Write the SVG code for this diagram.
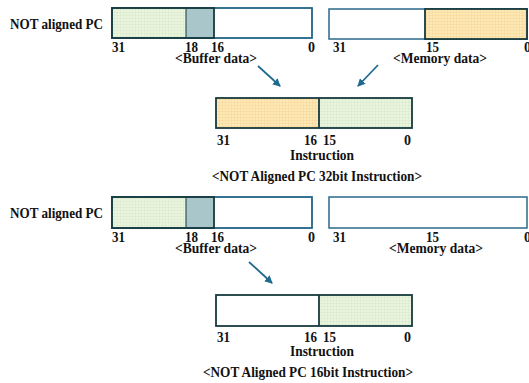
<svg xmlns="http://www.w3.org/2000/svg" width="529" height="383" viewBox="0 0 529 383">
<defs>
<pattern id="pg" width="3" height="3" patternUnits="userSpaceOnUse"><rect width="3" height="3" fill="#eaf4df"/><path d="M0 0.5H3M0.5 0V3" stroke="#d9e9cc" stroke-width="0.6"/></pattern>
<pattern id="po" width="3" height="3" patternUnits="userSpaceOnUse"><rect width="3" height="3" fill="#fde9b8"/><path d="M0 0.5H3M0.5 0V3" stroke="#f6d99a" stroke-width="0.6"/></pattern>
<marker id="ah" markerWidth="8" markerHeight="8" refX="7" refY="4" orient="auto" markerUnits="userSpaceOnUse"><path d="M0 0L8 4L0 8Z" fill="#1f6a8f"/></marker>
</defs>
<style>
text{font-family:"Liberation Serif","Times New Roman",serif;font-weight:bold;font-size:14px;fill:#111}
.c{text-anchor:middle}
.box{fill:none;stroke:#2a6a8a;stroke-width:1.5}
.dk{fill:none;stroke:#173a3f;stroke-width:1.8}
.blu{fill:#a9c6cb}
.arr{stroke:#1f6a8f;stroke-width:1.8;fill:none;marker-end:url(#ah)}
</style>

<g id="buffer1">
<text x="10" y="29" textLength="93" lengthAdjust="spacingAndGlyphs">NOT aligned PC</text>
<rect x="112" y="8" width="200" height="30" fill="#fff" class="box"/>
<rect x="112" y="8" width="74" height="30" fill="url(#pg)"/>
<rect x="186" y="8" width="28" height="30" class="blu"/>
<rect x="112" y="8" width="200" height="30" class="box"/>
<rect x="112" y="8" width="102" height="30" class="dk"/>
<line x1="186" y1="8" x2="186" y2="38" stroke="#173a3f" stroke-width="1"/>
<text x="112" y="52" textLength="13" lengthAdjust="spacingAndGlyphs">31</text>
<text x="185" y="52" textLength="13" lengthAdjust="spacingAndGlyphs">18</text>
<text x="211" y="52" textLength="13" lengthAdjust="spacingAndGlyphs">16</text>
<text x="308" y="52">0</text>
<text x="175" y="63" textLength="82" lengthAdjust="spacingAndGlyphs">&lt;Buffer data&gt;</text>
</g>

<g id="memory1">
<rect x="329" y="9" width="198" height="30" fill="#fff" class="box"/>
<rect x="425" y="9" width="102" height="30" fill="url(#po)"/>
<rect x="425" y="9" width="102" height="30" class="dk"/>
<text x="333" y="52" textLength="13" lengthAdjust="spacingAndGlyphs">31</text>
<text x="426" y="52" textLength="13" lengthAdjust="spacingAndGlyphs">15</text>
<text x="524" y="52">0</text>
<text x="393" y="63" textLength="94" lengthAdjust="spacingAndGlyphs">&lt;Memory data&gt;</text>
</g>

<g id="instr1">
<rect x="216" y="98" width="103" height="30" fill="url(#po)"/>
<rect x="319" y="98" width="93" height="30" fill="url(#pg)"/>
<rect x="216" y="98" width="196" height="30" class="dk"/>
<line x1="319" y1="98" x2="319" y2="128" stroke="#173a3f" stroke-width="1.8"/>
<text x="217" y="145" textLength="13" lengthAdjust="spacingAndGlyphs">31</text>
<text x="304" y="145" textLength="13" lengthAdjust="spacingAndGlyphs">16</text>
<text x="323" y="145" textLength="13" lengthAdjust="spacingAndGlyphs">15</text>
<text x="404" y="145">0</text>
<text x="290" y="160" textLength="64" lengthAdjust="spacingAndGlyphs">Instruction</text>
<text x="212" y="181" textLength="210" lengthAdjust="spacingAndGlyphs">&lt;NOT Aligned PC 32bit Instruction&gt;</text>
</g>

<g id="buffer2">
<text x="10" y="218" textLength="93" lengthAdjust="spacingAndGlyphs">NOT aligned PC</text>
<rect x="112" y="197" width="200" height="31" fill="#fff" class="box"/>
<rect x="112" y="197" width="74" height="31" fill="url(#pg)"/>
<rect x="186" y="197" width="28" height="31" class="blu"/>
<rect x="112" y="197" width="200" height="31" class="box"/>
<rect x="112" y="197" width="102" height="31" class="dk"/>
<line x1="186" y1="197" x2="186" y2="228" stroke="#173a3f" stroke-width="1"/>
<text x="112" y="242" textLength="13" lengthAdjust="spacingAndGlyphs">31</text>
<text x="185" y="242" textLength="13" lengthAdjust="spacingAndGlyphs">18</text>
<text x="211" y="242" textLength="13" lengthAdjust="spacingAndGlyphs">16</text>
<text x="308" y="242">0</text>
<text x="175" y="253" textLength="82" lengthAdjust="spacingAndGlyphs">&lt;Buffer data&gt;</text>
</g>

<g id="memory2">
<rect x="329" y="197" width="198" height="31" fill="#fff" class="box"/>
<text x="333" y="242" textLength="13" lengthAdjust="spacingAndGlyphs">31</text>
<text x="426" y="242" textLength="13" lengthAdjust="spacingAndGlyphs">15</text>
<text x="524" y="242">0</text>
<text x="389" y="253" textLength="94" lengthAdjust="spacingAndGlyphs">&lt;Memory data&gt;</text>
</g>

<g id="instr2">
<rect x="216" y="295" width="103" height="31" fill="#fff"/>
<rect x="319" y="295" width="93" height="31" fill="url(#pg)"/>
<rect x="216" y="295" width="196" height="31" class="dk"/>
<line x1="319" y1="295" x2="319" y2="326" stroke="#173a3f" stroke-width="1.8"/>
<text x="217" y="342" textLength="13" lengthAdjust="spacingAndGlyphs">31</text>
<text x="304" y="342" textLength="13" lengthAdjust="spacingAndGlyphs">16</text>
<text x="323" y="342" textLength="13" lengthAdjust="spacingAndGlyphs">15</text>
<text x="404" y="342">0</text>
<text x="290" y="356" textLength="64" lengthAdjust="spacingAndGlyphs">Instruction</text>
<text x="203" y="377" textLength="210" lengthAdjust="spacingAndGlyphs">&lt;NOT Aligned PC 16bit Instruction&gt;</text>
</g>

<g id="connectors">
<line x1="258" y1="66" x2="280" y2="86" class="arr"/>
<line x1="378" y1="65" x2="358" y2="86" class="arr"/>
<line x1="249" y1="262" x2="272" y2="283" class="arr"/>
</g>
</svg>
